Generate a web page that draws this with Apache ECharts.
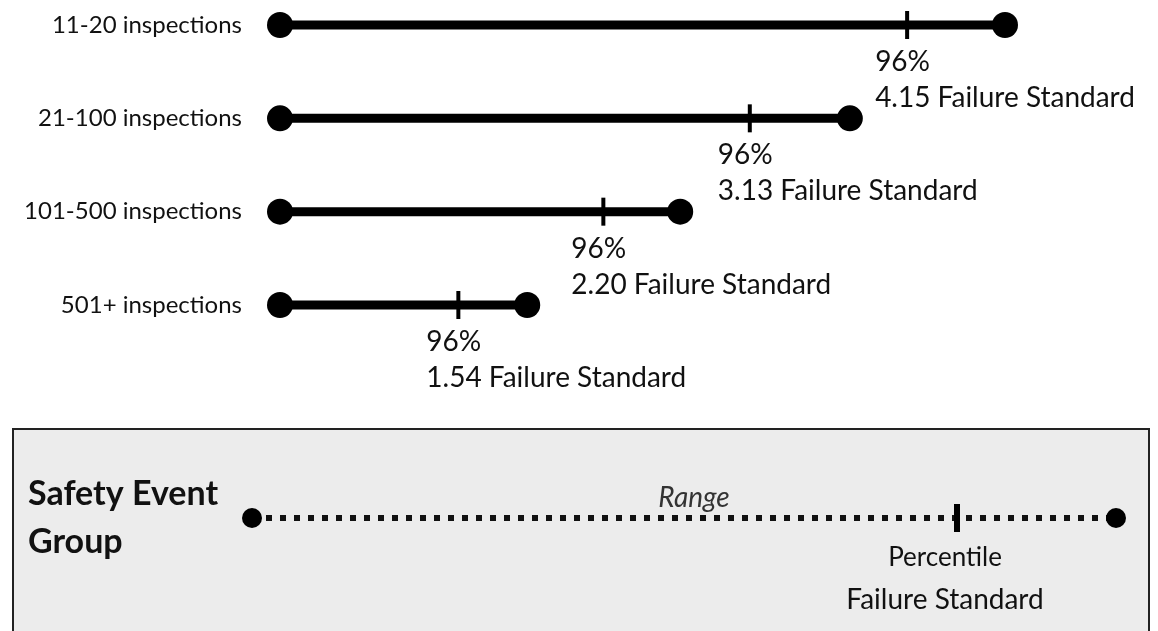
<!DOCTYPE html>
<html>
<head>
<meta charset="utf-8">
<script src="https://cdn.jsdelivr.net/npm/echarts@6/dist/echarts.min.js"></script>
<style>
  html, body { margin: 0; background: #fff; }
  #chart { width: 1158px; height: 631px; }
</style>
</head>
<body>
<div id="chart"></div>
<script>
// safety event groups, top to bottom
var groups = ['11-20 inspections', '21-100 inspections', '101-500 inspections', '501+ inspections']
// positions along the drawn range (0 = start of range, not to scale)
var rangeEnd = [100, 78.6, 55.2, 34.1]
var percentilePos = [86.5, 64.8, 44.6, 24.6]
var percentile = ['96%', '96%', '96%', '96%']
var failureStandard = [4.15, 3.13, 2.20, 1.54]

// the key box at the bottom
var keyGroup = ['Safety Event\nGroup']
var keyRangeEnd = [100]
var keyPercentilePos = [81.6]
var keyRangeText = 'Range'
var keyPercentileText = 'Percentile'
var keyStandardText = 'Failure Standard'

var FONT = 'Lato, "Open Sans", sans-serif'
var chart = echarts.init(document.getElementById('chart'))

var rowData = groups.map(function (g, i) {
  return [i, rangeEnd[i], percentilePos[i]]
})

function renderRow(params, api) {
  var i = api.value(0)
  var s = api.coord([0, i])
  var e = api.coord([api.value(1), i])
  var p = api.coord([api.value(2), i])
  return {
    type: 'group',
    children: [
      { type: 'line', shape: { x1: s[0], y1: s[1], x2: e[0], y2: e[1] }, style: { stroke: '#000', lineWidth: 9 } },
      { type: 'circle', shape: { cx: s[0], cy: s[1], r: 13 }, style: { fill: '#000' } },
      { type: 'circle', shape: { cx: e[0], cy: e[1], r: 13 }, style: { fill: '#000' } },
      { type: 'rect', shape: { x: p[0] - 2, y: p[1] - 14, width: 4, height: 28 }, style: { fill: '#000' } },
      {
        type: 'text', x: p[0] - 32, y: p[1] + 37,
        style: { text: percentile[i], fontFamily: FONT, fontSize: 28, fill: '#111', verticalAlign: 'middle' }
      },
      {
        type: 'text', x: p[0] - 32, y: p[1] + 73,
        style: { text: failureStandard[i].toFixed(2) + ' Failure Standard', fontFamily: FONT, fontSize: 28, fill: '#111', verticalAlign: 'middle' }
      }
    ]
  }
}

function renderKey(params, api) {
  var s = api.coord([0, 0])
  var e = api.coord([api.value(1), 0])
  var p = api.coord([api.value(2), 0])
  return {
    type: 'group',
    children: [
      { type: 'line', shape: { x1: s[0], y1: s[1], x2: e[0], y2: e[1] }, style: { stroke: '#111', lineWidth: 6, lineDash: [6, 8] } },
      { type: 'circle', shape: { cx: s[0], cy: s[1], r: 10 }, style: { fill: '#000' } },
      { type: 'circle', shape: { cx: e[0], cy: e[1], r: 10 }, style: { fill: '#000' } },
      { type: 'rect', shape: { x: p[0] - 3, y: p[1] - 14, width: 6, height: 28 }, style: { fill: '#000' } },
      {
        type: 'text', x: (s[0] + e[0]) / 2 + 10, y: s[1] - 20,
        style: { text: keyRangeText, fontFamily: FONT, fontSize: 28, fontStyle: 'italic', fill: '#333', align: 'center', verticalAlign: 'middle' }
      },
      {
        type: 'text', x: p[0] - 12, y: p[1] + 40,
        style: { text: keyPercentileText, fontFamily: FONT, fontSize: 26, fill: '#111', align: 'center', verticalAlign: 'middle' }
      },
      {
        type: 'text', x: p[0] - 12, y: p[1] + 82,
        style: { text: keyStandardText, fontFamily: FONT, fontSize: 28, fill: '#111', align: 'center', verticalAlign: 'middle' }
      }
    ]
  }
}

chart.setOption({
  backgroundColor: '#fff',
  animation: false,
  graphic: [
    {
      type: 'rect', left: 12, top: 428, z: -10,
      shape: { width: 1136, height: 215 },
      style: { fill: '#ececec', stroke: '#222', lineWidth: 2 }
    }
  ],
  grid: [
    { left: 280, right: 153, top: 25, height: 280 },
    { left: 252, right: 42, top: 498, height: 40 }
  ],
  xAxis: [
    { gridIndex: 0, type: 'value', min: 0, max: 100, show: false },
    { gridIndex: 1, type: 'value', min: 0, max: 100, show: false }
  ],
  yAxis: [
    {
      gridIndex: 0, type: 'category', data: groups, inverse: true, boundaryGap: false,
      axisLine: { show: false }, axisTick: { show: false }, splitLine: { show: false },
      axisLabel: { margin: 38, fontFamily: FONT, fontSize: 24, color: '#111' }
    },
    {
      gridIndex: 1, type: 'category', data: keyGroup,
      axisLine: { show: false }, axisTick: { show: false }, splitLine: { show: false },
      axisLabel: {
        margin: 224, align: 'left', fontFamily: FONT, fontSize: 34, fontWeight: 'bold',
        lineHeight: 48, padding: [30, 0, 0, 0], color: '#111'
      }
    }
  ],
  series: [
    {
      type: 'custom', xAxisIndex: 0, yAxisIndex: 0,
      renderItem: renderRow,
      encode: { x: [1, 2], y: 0 },
      data: rowData
    },
    {
      type: 'custom', xAxisIndex: 1, yAxisIndex: 1,
      renderItem: renderKey,
      encode: { x: [1, 2], y: 0 },
      data: [[0, keyRangeEnd[0], keyPercentilePos[0]]]
    }
  ]
})
</script>
</body>
</html>
